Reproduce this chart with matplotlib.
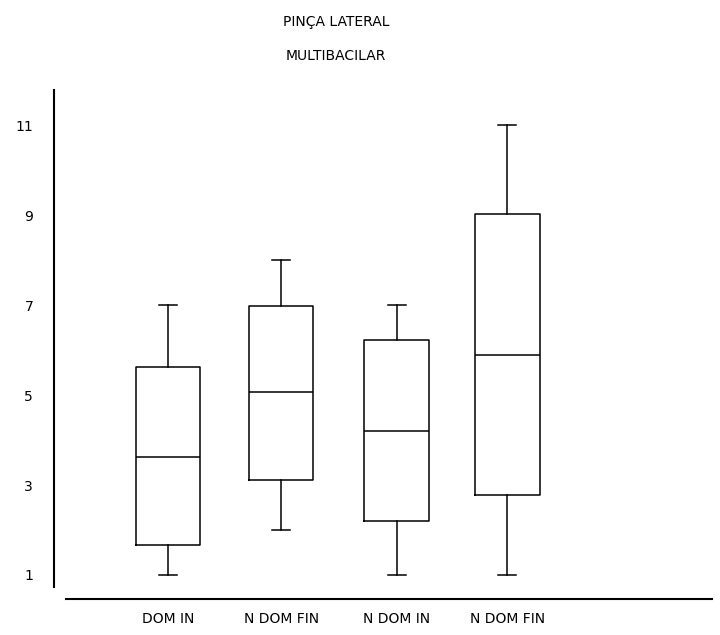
import matplotlib
matplotlib.use("Agg")
import matplotlib.pyplot as plt
from matplotlib.lines import Line2D

categories = ["DOM IN", "N DOM FIN", "N DOM IN", "N DOM FIN"]
whislo = [1.0, 2.0, 1.0, 1.0]
q1 = [1.67, 3.11, 2.2, 2.78]
med = [3.62, 5.07, 4.2, 5.89]
q3 = [5.62, 6.98, 6.22, 9.02]
whishi = [7.0, 8.0, 7.0, 11.0]
yticks = [1, 3, 5, 7, 9, 11]

W, H = 720, 635
fig = plt.figure(figsize=(W / 100, H / 100), dpi=100)
ax = fig.add_axes([54 / W, 1 - 587 / H, (712 - 54) / W, (587 - 90) / H])

stats = []
for i in range(len(categories)):
    stats.append(dict(label=categories[i], whislo=whislo[i], q1=q1[i], med=med[i],
                      q3=q3[i], whishi=whishi[i], fliers=[]))
positions = [1, 2, 3.02, 4]
lw = 1.1
ax.bxp(stats, positions=positions, widths=0.57, showfliers=False,
       boxprops=dict(color="black", linewidth=lw),
       medianprops=dict(color="black", linewidth=lw),
       whiskerprops=dict(color="black", linewidth=lw),
       capprops=dict(color="black", linewidth=lw),
       capwidths=0.16)

ax.set_xlim(-0.01, 5.81)
ax.set_ylim(0.733, 11.78)
for s in ["top", "right", "bottom"]:
    ax.spines[s].set_visible(False)
ax.spines["left"].set_linewidth(1.5)
ax.set_yticks(yticks)
ax.set_yticklabels([str(t) for t in yticks], fontsize=10)
ax.tick_params(axis="y", length=0, pad=15)
ax.set_xticks(positions)
ax.set_xticklabels(categories, fontsize=10)
ax.tick_params(axis="x", length=0, pad=18)

fig.add_artist(Line2D([66 / W, 712 / W], [1 - 599 / H, 1 - 599 / H],
                      transform=fig.transFigure, color="black", linewidth=1.5))

fig.text(336 / W, 1 - 22 / H, "PINÇA LATERAL", ha="center", va="center", fontsize=10)
fig.text(336 / W, 1 - 56 / H, "MULTIBACILAR", ha="center", va="center", fontsize=10)

fig.savefig("out.png", dpi=100, facecolor="white")
